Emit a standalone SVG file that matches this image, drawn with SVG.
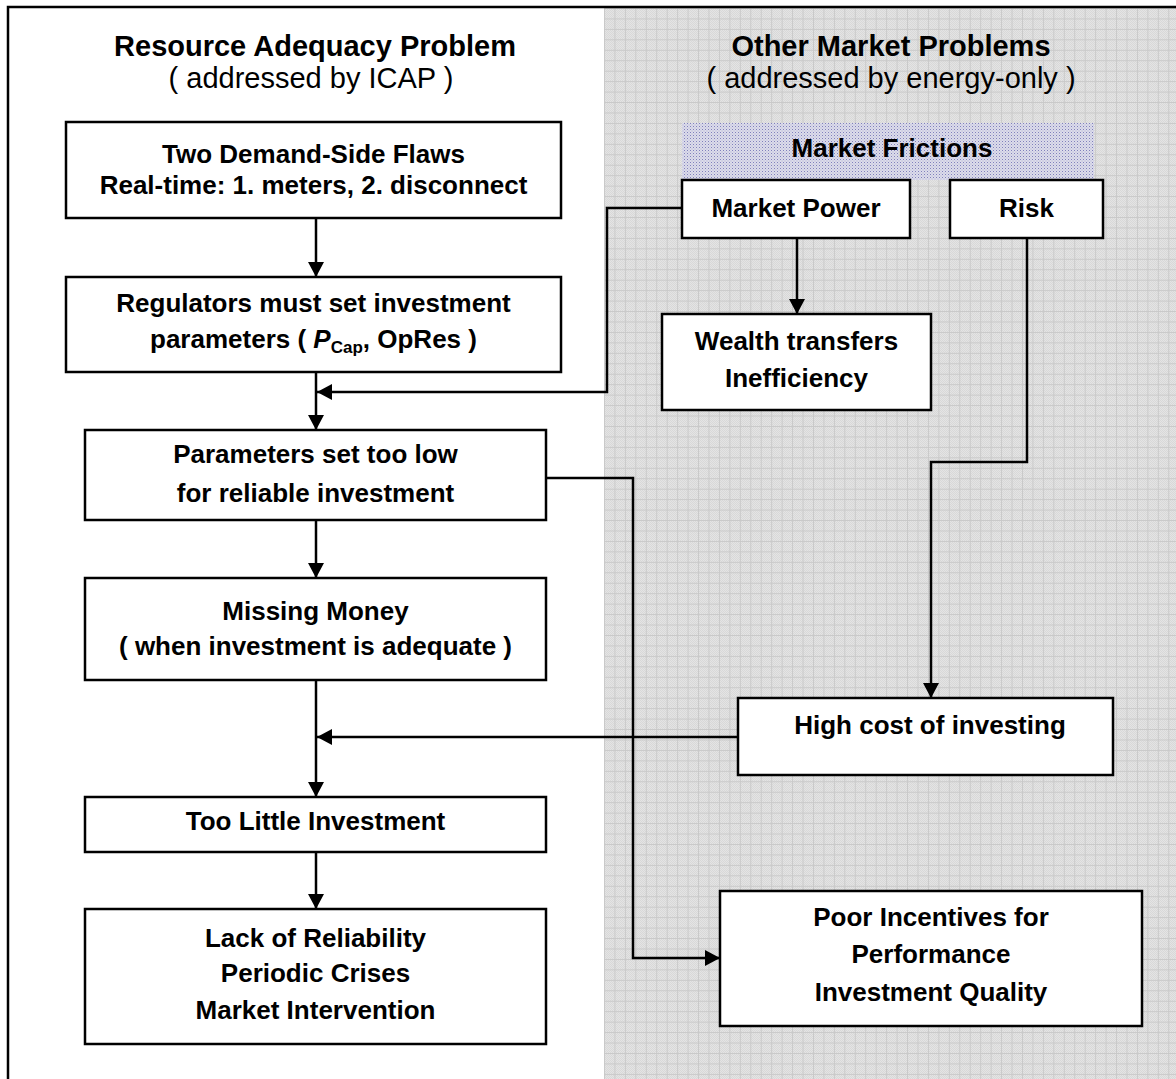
<svg xmlns="http://www.w3.org/2000/svg" width="1176" height="1079" viewBox="0 0 1176 1079">
<style>
.box{fill:#fff;stroke:#000;stroke-width:2.5}
.t{font-family:"Liberation Sans",Arial,sans-serif;font-weight:bold;font-size:26px;text-anchor:middle;fill:#000}
.h{font-family:"Liberation Sans",Arial,sans-serif;font-size:29px;text-anchor:middle;fill:#000}
.c{fill:none;stroke:#000;stroke-width:2.5}
</style>
<defs>
<pattern id="dither" patternUnits="userSpaceOnUse" width="2" height="2">
<rect width="2" height="2" fill="#e4e4e4"/>
<rect width="1" height="1" fill="#d8d8d8"/>
<rect x="1" y="1" width="1" height="1" fill="#d8d8d8"/>
</pattern>
<pattern id="grid" patternUnits="userSpaceOnUse" x="604" y="8" width="10.45" height="10.45">
<path d="M0,0.5 H10.45 M0.5,0 V10.45" fill="none" stroke="#c9c9c9" stroke-width="1"/>
</pattern>
<pattern id="dots" patternUnits="userSpaceOnUse" width="3" height="3">
<rect width="3" height="3" fill="#dcdcea"/>
<rect width="1" height="1" fill="#8080bc"/>
<rect x="1.5" y="1.5" width="1" height="1" fill="#aeaed2"/>
</pattern>
<marker id="arr" markerUnits="userSpaceOnUse" markerWidth="16" markerHeight="16" refX="15" refY="8" orient="auto">
<path d="M0,0 L15,8 L0,16 Z" fill="#000"/>
</marker>
</defs>
<rect width="1176" height="1079" fill="#fff"/>
<rect x="604" y="8" width="572" height="1071" fill="url(#dither)"/>
<rect x="604" y="8" width="572" height="1071" fill="url(#grid)"/>
<path d="M8,1079 V7 H1176" fill="none" stroke="#000" stroke-width="2.5"/>
<g id="title-left">
<text class="h" x="315" y="56" font-weight="bold">Resource Adequacy Problem</text>
<text class="h" x="311" y="88">( addressed by ICAP )</text>
</g>
<g id="title-right">
<text class="h" x="891" y="56" font-weight="bold">Other Market Problems</text>
<text class="h" x="891" y="88">( addressed by energy-only )</text>
</g>
<g id="connectors">
<line class="c" x1="316" y1="218" x2="316" y2="277" marker-end="url(#arr)"/>
<polyline class="c" points="682,208 607,208 607,392 317,392" marker-end="url(#arr)"/>
<line class="c" x1="316" y1="372" x2="316" y2="430" marker-end="url(#arr)"/>
<polyline class="c" points="546,478 633,478 633,958 720,958" marker-end="url(#arr)"/>
<line class="c" x1="316" y1="520" x2="316" y2="578" marker-end="url(#arr)"/>
<line class="c" x1="316" y1="680" x2="316" y2="797" marker-end="url(#arr)"/>
<line class="c" x1="738" y1="737" x2="317" y2="737" marker-end="url(#arr)"/>
<line class="c" x1="316" y1="852" x2="316" y2="909" marker-end="url(#arr)"/>
<line class="c" x1="797" y1="238" x2="797" y2="314" marker-end="url(#arr)"/>
<polyline class="c" points="1027,238 1027,462 931,462 931,698" marker-end="url(#arr)"/>
</g>
<g id="n-flaws">
<rect class="box" x="66" y="122" width="495" height="96"/>
<text class="t" x="313.5" y="163">Two Demand-Side Flaws</text>
<text class="t" x="313.5" y="194">Real-time: 1. meters, 2. disconnect</text>
</g>
<g id="n-regulators">
<rect class="box" x="66" y="277" width="495" height="95"/>
<text class="t" x="313.5" y="312">Regulators must set investment</text>
<text class="t" x="313.5" y="348">parameters ( <tspan font-style="italic">P</tspan><tspan font-size="17" dy="5">Cap</tspan><tspan dy="-5">, OpRes )</tspan></text>
</g>
<g id="n-params">
<rect class="box" x="85" y="430" width="461" height="90"/>
<text class="t" x="315.5" y="463">Parameters set too low</text>
<text class="t" x="315.5" y="502">for reliable investment</text>
</g>
<g id="n-missing">
<rect class="box" x="85" y="578" width="461" height="102"/>
<text class="t" x="315.5" y="620">Missing Money</text>
<text class="t" x="315.5" y="655">( when investment is adequate )</text>
</g>
<g id="n-little">
<rect class="box" x="85" y="797" width="461" height="55"/>
<text class="t" x="315.5" y="830">Too Little Investment</text>
</g>
<g id="n-lack">
<rect class="box" x="85" y="909" width="461" height="135"/>
<text class="t" x="315.5" y="947">Lack of Reliability</text>
<text class="t" x="315.5" y="982">Periodic Crises</text>
<text class="t" x="315.5" y="1019">Market Intervention</text>
</g>
<g id="n-frictions">
<rect x="682" y="123" width="412" height="57" fill="url(#dots)"/>
<text class="t" x="892" y="157">Market Frictions</text>
</g>
<g id="n-power">
<rect class="box" x="682" y="180" width="228" height="58"/>
<text class="t" x="796" y="217">Market Power</text>
</g>
<g id="n-risk">
<rect class="box" x="950" y="180" width="153" height="58"/>
<text class="t" x="1026.5" y="217">Risk</text>
</g>
<g id="n-wealth">
<rect class="box" x="662" y="314" width="269" height="96"/>
<text class="t" x="796.5" y="350">Wealth transfers</text>
<text class="t" x="796.5" y="387">Inefficiency</text>
</g>
<g id="n-highcost">
<rect class="box" x="738" y="698" width="375" height="77"/>
<text class="t" x="930" y="734">High cost of investing</text>
</g>
<g id="n-poor">
<rect class="box" x="720" y="891" width="422" height="135"/>
<text class="t" x="931" y="926">Poor Incentives for</text>
<text class="t" x="931" y="963">Performance</text>
<text class="t" x="931" y="1001">Investment Quality</text>
</g>
</svg>
